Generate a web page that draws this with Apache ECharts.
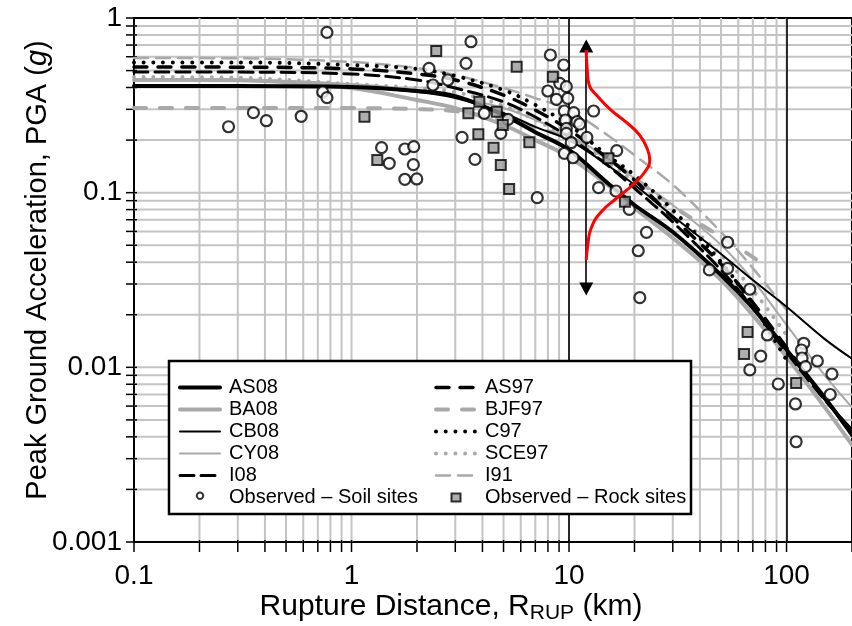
<!DOCTYPE html>
<html>
<head>
<meta charset="utf-8">
<title>PGA vs rupture distance</title>
<script src="https://cdn.jsdelivr.net/npm/echarts@6.0.0/dist/echarts.min.js"></script>
<style>
  html, body { margin: 0; padding: 0; background: #fff; }
  #chart { width: 852px; height: 626px; }
</style>
</head>
<body>
<div id="chart"></div>
<script>
var rGrid = [0.1, 0.3, 1, 2, 3, 5, 7, 10, 15, 20, 30, 50, 70, 100, 150, 200];
var rGrid100 = [0.1, 0.3, 1, 2, 3, 5, 7, 10, 15, 20, 30, 50, 70, 100];
var rGridBJF = [0.1, 0.3, 1, 2, 3, 5, 7, 10, 15, 20, 30, 50, 70, 80];

// median PGA (g) of each attenuation model
var as08 = [0.408, 0.408, 0.403, 0.382, 0.357, 0.278, 0.222, 0.176, 0.114, 0.085, 0.0595, 0.0338, 0.0219, 0.0126, 0.0067, 0.0041];
var ba08 = [0.442, 0.440, 0.397, 0.339, 0.305, 0.244, 0.200, 0.160, 0.111, 0.0817, 0.055, 0.0316, 0.0199, 0.0115, 0.0059, 0.0036];
var cb08 = [0.405, 0.404, 0.403, 0.377, 0.348, 0.286, 0.238, 0.200, 0.144, 0.111, 0.0735, 0.0446, 0.0316, 0.0222, 0.0145, 0.0112];
var cy08 = [0.448, 0.445, 0.419, 0.387, 0.353, 0.305, 0.261, 0.214, 0.158, 0.121, 0.085, 0.0502, 0.0316, 0.0175, 0.0090, 0.0059];
var i08 = [0.491, 0.490, 0.478, 0.442, 0.397, 0.331, 0.271, 0.208, 0.144, 0.106, 0.0679, 0.0361, 0.0219, 0.0122, 0.0065, 0.0044];
var as97 = [0.524, 0.523, 0.511, 0.478, 0.442, 0.362, 0.297, 0.229, 0.158, 0.118, 0.072, 0.039, 0.0235, 0.0130, 0.0066, 0.0043];
var bjf97 = [0.305, 0.305, 0.305, 0.301, 0.293, 0.261, 0.235, 0.206, 0.158, 0.121, 0.0839, 0.0557, 0.0428, 0.0375];
var c97 = [0.557, 0.557, 0.538, 0.511, 0.466, 0.387, 0.318, 0.244, 0.164, 0.126, 0.0796, 0.0401, 0.0227, 0.0110];
var sce97 = [0.460, 0.455, 0.419, 0.397, 0.377, 0.314, 0.261, 0.206, 0.150, 0.115, 0.0775, 0.044, 0.0277, 0.0153];
var i91 = [0.590, 0.588, 0.560, 0.517, 0.472, 0.397, 0.348, 0.297, 0.214, 0.164, 0.111, 0.0595, 0.037, 0.0213];

// recorded PGA, soil sites
var soilR = [0.771, 0.272, 0.354, 0.406, 0.587, 0.737, 0.771, 1.375, 1.491, 1.759, 1.933, 1.925, 1.759, 1.995,
  2.271, 2.368, 2.773, 3.542, 3.361, 3.223, 3.695, 4.078, 4.857, 5.25, 7.143, 8.21, 9.458, 9.07, 9.72, 7.99,
  8.75, 9.865, 9.52, 10.51, 9.62, 10.88, 11.19, 9.72, 9.72, 10.24, 12.08, 9.52, 10.43, 12.97, 16.57, 13.67,
  16.44, 18.93, 22.71, 20.81, 21.16, 53.6, 44.18, 53.6, 67.8, 81.65, 76.1, 67.8, 91.65, 109.9, 110.7, 120,
  117.1, 117.9, 122.2, 138.6, 161.7, 158.8];
var soilPga = [0.828, 0.2385, 0.287, 0.2582, 0.2737, 0.377, 0.3498, 0.181, 0.1473, 0.1778, 0.1833, 0.1446, 0.1193, 0.1198,
  0.515, 0.4135, 0.4416, 0.7315, 0.5502, 0.2075, 0.1552, 0.2847, 0.2187, 0.263, 0.0936, 0.614, 0.538, 0.4228, 0.4043, 0.382,
  0.3423, 0.347, 0.2934, 0.287, 0.2606, 0.2549, 0.2472, 0.2336, 0.2187, 0.1932, 0.2075, 0.168, 0.1585, 0.2934, 0.1739, 0.1068,
  0.1022, 0.0803, 0.0593, 0.0465, 0.02505, 0.052, 0.0361, 0.0369, 0.028, 0.01532, 0.0116, 0.00966, 0.00803, 0.00617, 0.00375, 0.01373,
  0.01257, 0.01131, 0.01009, 0.01087, 0.00916, 0.00699];

// recorded PGA, rock sites
var rockR = [1.147, 1.314, 2.452, 3.446, 3.87, 3.83, 4.656, 4.96, 4.498, 4.857, 5.306, 6.57, 5.746, 8.425, 15.18, 18.07, 66.2, 63.8, 110.7];
var rockPga = [0.2722, 0.1538, 0.6474, 0.2847, 0.3318, 0.2159, 0.2907, 0.244, 0.181, 0.144, 0.105, 0.1943, 0.526, 0.4613, 0.1573, 0.0888, 0.01593, 0.01193, 0.00813];

// red distribution drawn sideways at R = 12 km
var redPga = [0.656, 0.504, 0.4135, 0.353, 0.297, 0.254, 0.214, 0.1755, 0.1538, 0.1313, 0.1106, 0.0932, 0.0775, 0.0628, 0.0502, 0.0412];
var redR = [12.0, 12.13, 12.38, 13.63, 15.6, 18.24, 21.1, 23.0, 23.5, 22.3, 19.6, 16.6, 14.05, 12.65, 12.2, 12.0];
var arrowR = 12.0;
var arrowPga = [0.692, 0.0281];
var refR = [10, 100];

// axes
var xMin = 0.1, xMax = 200, yMin = 0.001, yMax = 1;
var xTickLabels = ['0.1', '1', '10', '100'];
var yTickLabels = ['0.001', '0.01', '0.1', '1'];
var xGridValues = [0.1, 0.2, 0.3, 0.4, 0.5, 0.6, 0.7, 0.8, 0.9, 1, 2, 3, 4, 5, 6, 7, 8, 9,
  10, 20, 30, 40, 50, 60, 70, 80, 90, 100, 200];
var yGridValues = [0.001, 0.002, 0.003, 0.004, 0.005, 0.006, 0.007, 0.008, 0.009,
  0.01, 0.02, 0.03, 0.04, 0.05, 0.06, 0.07, 0.08, 0.09, 0.1, 0.2, 0.3, 0.4, 0.5, 0.6, 0.7, 0.8, 0.9, 1];

var FONT = "'Liberation Sans', Arial, Helvetica, sans-serif";
var GRAY = '#a9a9a9';
var GRID_GRAY = '#c4c4c4';

function pairs (xs, ys) {
  return xs.map(function (x, i) { return [x, ys[i]] })
}

function curve (name, xs, ys, color, width, type) {
  return {
    name: name,
    type: 'line',
    data: pairs(xs, ys),
    smooth: 0.35,
    symbol: 'none',
    z: 3,
    lineStyle: { color: color, width: width, type: type || 'solid', cap: 'round' },
    // keeps the legend from drawing a marker in the middle of the line sample
    itemStyle: { color: 'rgba(0,0,0,0)', borderWidth: 0 }
  }
}

var chart = echarts.init(document.getElementById('chart'))

var legendText = { fontSize: 20, fontFamily: FONT, color: '#000', lineHeight: 21, padding: [0, 0, 0, 4] }

var option = {
  animation: false,
  backgroundColor: '#fff',
  grid: {
    left: 134, right: -5, top: 18, bottom: 84,
    show: true, borderColor: '#000', borderWidth: 2, backgroundColor: 'transparent'
  },
  xAxis: {
    type: 'log', logBase: 10, min: xMin, max: xMax,
    axisLine: { show: false }, axisTick: { show: false }, splitLine: { show: false },
    axisLabel: {
      margin: 20, fontSize: 28, fontFamily: FONT, color: '#000', showMaxLabel: false,
      formatter: function (v) {
        var s = String(+v.toPrecision(6))
        return xTickLabels.indexOf(s) >= 0 ? s : ''
      }
    }
  },
  yAxis: {
    type: 'log', logBase: 10, min: yMin, max: yMax,
    axisLine: { show: false }, axisTick: { show: false }, splitLine: { show: false },
    axisLabel: {
      margin: 12, fontSize: 28, fontFamily: FONT, color: '#000',
      formatter: function (v) {
        var s = String(+v.toPrecision(6))
        return yTickLabels.indexOf(s) >= 0 ? s : ''
      }
    }
  },
  legend: [
    {
      data: ['AS08', 'BA08', 'CB08', 'CY08', 'I08',
        { name: 'Observed – Soil sites', icon: 'path://M0,0M40,10M15.5,0.5a4.5,4.5 0 1,0 9,0a4.5,4.5 0 1,0 -9,0z' }],
      left: 173, top: 372, orient: 'vertical', itemWidth: 40, itemHeight: 10, itemGap: 1,
      selectedMode: false, z: 10, textStyle: legendText,
      lineStyle: { width: 'inherit', type: 'inherit', cap: 'round' }
    },
    {
      data: ['AS97', 'BJF97', 'C97', 'SCE97', 'I91',
        { name: 'Observed – Rock sites', icon: 'path://M0,0M40,10M15.5,1h9v8h-9z' }],
      left: 429, top: 372, orient: 'vertical', itemWidth: 40, itemHeight: 10, itemGap: 1,
      selectedMode: false, z: 10, textStyle: legendText,
      lineStyle: { width: 'inherit', type: 'inherit', cap: 'round' }
    }
  ],
  graphic: [
    {
      type: 'rect', z: 8,
      shape: { x: 169, y: 361, width: 522, height: 153 },
      style: { fill: '#fff', stroke: '#000', lineWidth: 2.5 }
    },
    {
      type: 'text', x: 451, y: 607,
      style: {
        text: '{a|Rupture Distance, R}{b|RUP}{a| (km)}',
        align: 'center', verticalAlign: 'middle',
        rich: {
          a: { fontSize: 30, fontFamily: FONT, fill: '#000', lineHeight: 34 },
          b: { fontSize: 21, fontFamily: FONT, fill: '#000', lineHeight: 14, verticalAlign: 'bottom' }
        }
      }
    },
    {
      type: 'text', x: 38, y: 270, rotation: Math.PI / 2,
      style: {
        text: '{a|Peak Ground Acceleration, PGA (}{i|g}{a|)}',
        align: 'center', verticalAlign: 'middle',
        rich: {
          a: { fontSize: 29, fontFamily: FONT, fill: '#000' },
          i: { fontSize: 29, fontFamily: FONT, fill: '#000', fontStyle: 'italic' }
        }
      }
    }
  ],
  series: [
    // minor/major grid and ticks along x
    {
      type: 'custom', silent: true, z: 1, clip: false,
      data: xGridValues.map(function (v) { return [v, yMin] }),
      renderItem: function (params, api) {
        var v = api.value(0)
        var bot = api.coord([v, yMin])
        var top = api.coord([v, yMax])
        var kids = [{
          type: 'line',
          shape: { x1: bot[0], y1: bot[1] - 2, x2: bot[0], y2: bot[1] + 10 },
          style: { stroke: '#000', lineWidth: 1.5 }
        }]
        if (v > xMin && v < xMax) {
          kids.unshift({
            type: 'line',
            shape: { x1: top[0], y1: top[1], x2: bot[0], y2: bot[1] },
            style: { stroke: GRID_GRAY, lineWidth: 2 }
          })
        }
        return { type: 'group', children: kids }
      }
    },
    // minor/major grid and ticks along y
    {
      type: 'custom', silent: true, z: 1, clip: false,
      data: yGridValues.map(function (v) { return [xMin, v] }),
      renderItem: function (params, api) {
        var v = api.value(1)
        var left = api.coord([xMin, v])
        var right = api.coord([xMax, v])
        var kids = [{
          type: 'line',
          shape: { x1: left[0] - 8, y1: left[1], x2: left[0] + 3, y2: left[1] },
          style: { stroke: '#000', lineWidth: 1.5 }
        }]
        if (v > yMin && v < yMax) {
          kids.unshift({
            type: 'line',
            shape: { x1: left[0], y1: left[1], x2: right[0], y2: right[1] },
            style: { stroke: GRID_GRAY, lineWidth: 2 }
          })
        }
        return { type: 'group', children: kids }
      }
    },
    curve('BA08', rGrid, ba08, GRAY, 4),
    curve('CY08', rGrid, cy08, GRAY, 2),
    curve('BJF97', rGridBJF, bjf97, GRAY, 4, [12, 14]),
    curve('SCE97', rGrid100, sce97, GRAY, 4, [0.01, 9.7]),
    curve('I91', rGrid100, i91, GRAY, 2.5, [14, 8]),
    curve('AS08', rGrid, as08, '#000', 4),
    curve('CB08', rGrid, cb08, '#000', 2),
    curve('I08', rGrid, i08, '#000', 3, [14, 7]),
    curve('AS97', rGrid, as97, '#000', 3.5, [13, 11]),
    curve('C97', rGrid100, c97, '#000', 4, [0.01, 9.7]),
    {
      name: 'Observed – Soil sites',
      type: 'scatter', z: 5,
      data: pairs(soilR, soilPga),
      symbol: 'circle', symbolSize: 11,
      itemStyle: { color: '#fff', borderColor: '#000', borderWidth: 2.2 }
    },
    {
      name: 'Observed – Rock sites',
      type: 'scatter', z: 5,
      data: pairs(rockR, rockPga),
      symbol: 'rect', symbolSize: 10,
      itemStyle: { color: '#9a9a9a', borderColor: '#000', borderWidth: 2 }
    },
    {
      name: 'distribution',
      type: 'line', z: 6, silent: true,
      data: pairs(redR, redPga),
      smooth: 0.5, symbol: 'none',
      lineStyle: { color: '#ff0000', width: 3 },
      markLine: {
        silent: true, symbol: ['none', 'none'], animation: false,
        label: { show: false },
        lineStyle: { color: '#000', width: 1.6, type: 'solid' },
        data: [
          { xAxis: refR[0] },
          { xAxis: refR[1] },
          [
            { coord: [arrowR, arrowPga[0]], symbol: 'triangle', symbolSize: [14, 13] },
            { coord: [arrowR, arrowPga[1]], symbol: 'triangle', symbolSize: [14, 13] }
          ]
        ]
      }
    }
  ]
}

chart.setOption(option)
</script>
</body>
</html>
